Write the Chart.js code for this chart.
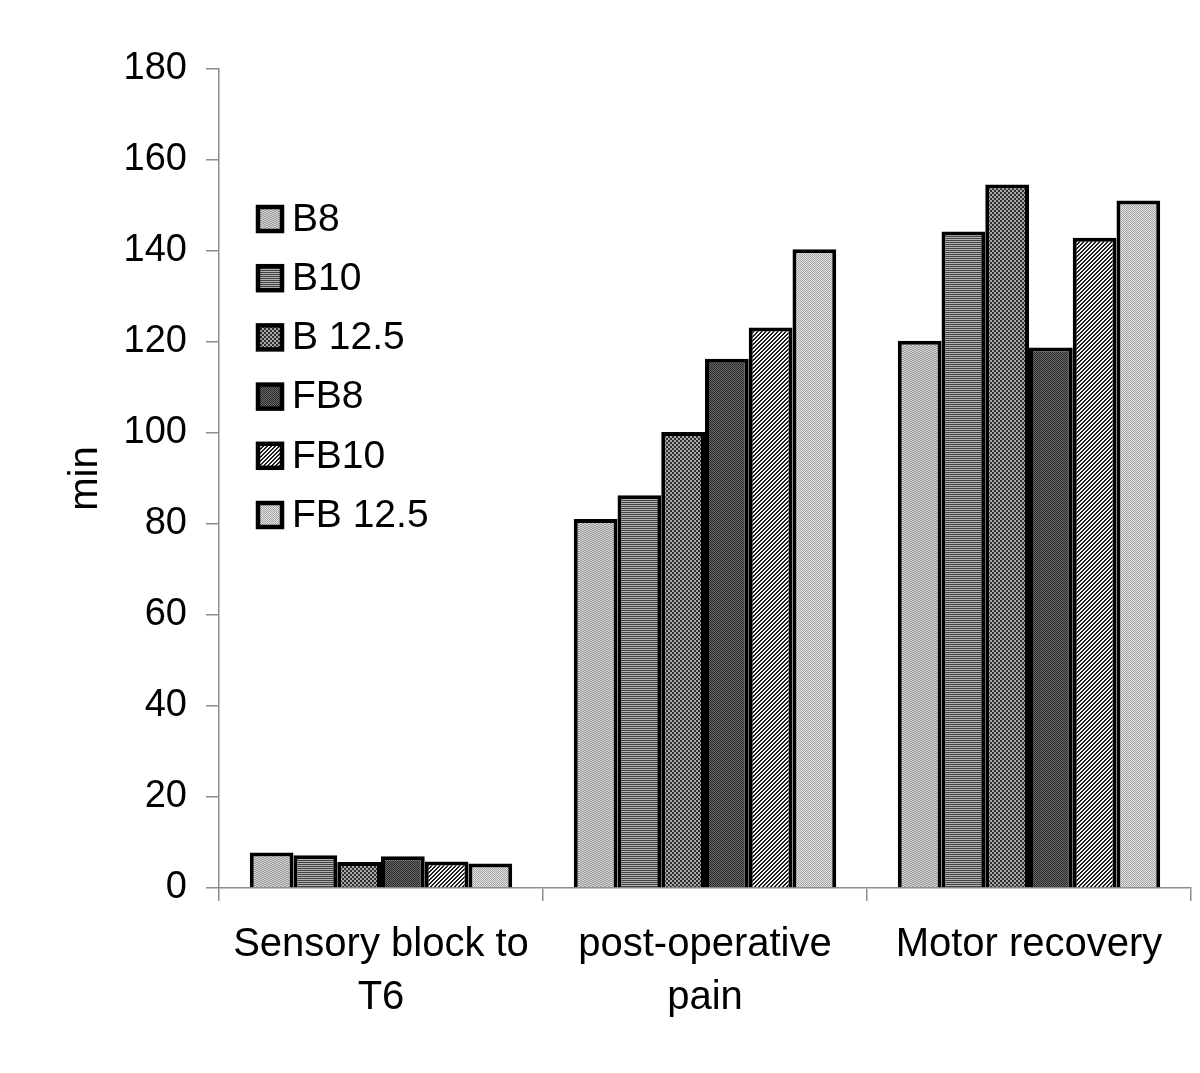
<!DOCTYPE html>
<html><head><meta charset="utf-8">
<script src="https://cdn.jsdelivr.net/npm/chart.js@4.4.1/dist/chart.umd.min.js"></script>
<style>html,body{margin:0;padding:0;background:#fff;}</style>
</head><body>
<canvas id="c" width="1200" height="1073"></canvas>
<script>
// ---- data ----
const categories = [["Sensory block to", "T6"], ["post-operative", "pain"], ["Motor recovery"]];
const seriesNames = ["B8", "B10", "B 12.5", "FB8", "FB10", "FB 12.5"];
const B8    = [7.8, 81.1, 120.3];
const B10   = [7.2, 86.3, 144.3];
const B125  = [5.7, 100.2, 154.6];
const FB8   = [7.0, 116.3, 118.8];
const FB10  = [5.8, 123.2, 142.9];
const FB125 = [5.4, 140.4, 151.1];
const yTickMin = 0, yTickMax = 180, yTickStep = 20;
const yTitle = "min";

// ---- patterns ----
function makePattern(w, h, fn) {
  const c = document.createElement('canvas');
  c.width = w; c.height = h;
  const g = c.getContext('2d');
  for (let y = 0; y < h; y++) for (let x = 0; x < w; x++) {
    g.fillStyle = fn(x, y); g.fillRect(x, y, 1, 1);
  }
  return document.getElementById('c').getContext('2d').createPattern(c, 'repeat');
}
const patterns = [
  makePattern(4, 4, (x, y) => ((x + 2 * y) % 4 < 2) ? '#9c9c9c' : '#d2d2d2'),
  makePattern(2, 2, (x, y) => y === 0 ? '#404040' : '#b4b4b4'),
  makePattern(4, 4, (x, y) => ((Math.floor(x / 2) + Math.floor(y / 2)) % 2) ? '#a8a8a8' : '#2e2e2e'),
  makePattern(2, 2, (x, y) => ((x + y) % 2) ? '#686868' : '#2a2a2a'),
  makePattern(4, 4, (x, y) => ((x + y) % 4 < 2) ? '#1e1e1e' : '#f4f4f4'),
  makePattern(2, 2, (x, y) => ((x + y) % 2) ? '#e2e2e2' : '#a4a4a4')
];
const seriesValues = [B8, B10, B125, FB8, FB10, FB125];

const FONT = '"Liberation Sans", Arial, sans-serif';
const AXIS = '#8c8c8c';

const insideLegend = {
  id: 'insideLegend',
  afterDraw(chart) {
    const ctx = chart.ctx;
    ctx.save();
    chart.data.datasets.forEach((ds, i) => {
      const cy = 219 + i * 59.2;
      ctx.fillStyle = ds.backgroundColor;
      ctx.fillRect(258, cy - 12, 24, 24);
      ctx.lineWidth = 4.5; ctx.strokeStyle = '#000';
      ctx.strokeRect(258, cy - 12, 24, 24);
      ctx.fillStyle = '#000';
      ctx.font = '39px ' + FONT;
      ctx.textBaseline = 'middle';
      ctx.textAlign = 'left';
      ctx.fillText(ds.label, 292, cy + 1);
    });
    ctx.restore();
  }
};

new Chart(document.getElementById('c'), {
  type: 'bar',
  data: {
    labels: categories,
    datasets: seriesNames.map((n, i) => ({
      label: n,
      data: seriesValues[i],
      backgroundColor: patterns[i],
      borderColor: '#000',
      borderWidth: 4,
      borderSkipped: 'bottom',
      categoryPercentage: 0.81,
      barPercentage: 1.0
    }))
  },
  options: {
    responsive: false,
    animation: false,
    devicePixelRatio: 1,
    layout: { padding: { left: 58, top: 69, right: 9, bottom: 0 } },
    plugins: { legend: { display: false }, tooltip: { enabled: false } },
    scales: {
      x: {
        grid: { display: true, drawOnChartArea: false, offset: true, tickLength: 13, color: AXIS, lineWidth: 1.5 },
        border: { display: true, color: AXIS, width: 1.5 },
        ticks: { color: '#000', font: { family: FONT, size: 40, lineHeight: 1.32 }, padding: 18, maxRotation: 0, autoSkip: false },
        afterFit: s => { s.height = 185; }
      },
      y: {
        min: yTickMin, max: yTickMax,
        grid: { display: true, drawOnChartArea: false, tickLength: 13, color: AXIS, lineWidth: 1.5 },
        border: { display: true, color: AXIS, width: 1.5 },
        ticks: { stepSize: yTickStep, color: '#000', font: { family: FONT, size: 38 }, padding: 19 },
        title: { display: true, text: yTitle, color: '#000', font: { family: FONT, size: 40 } },
        afterFit: s => { s.width = 161; }
      }
    }
  },
  plugins: [insideLegend]
});
</script>
</body></html>
